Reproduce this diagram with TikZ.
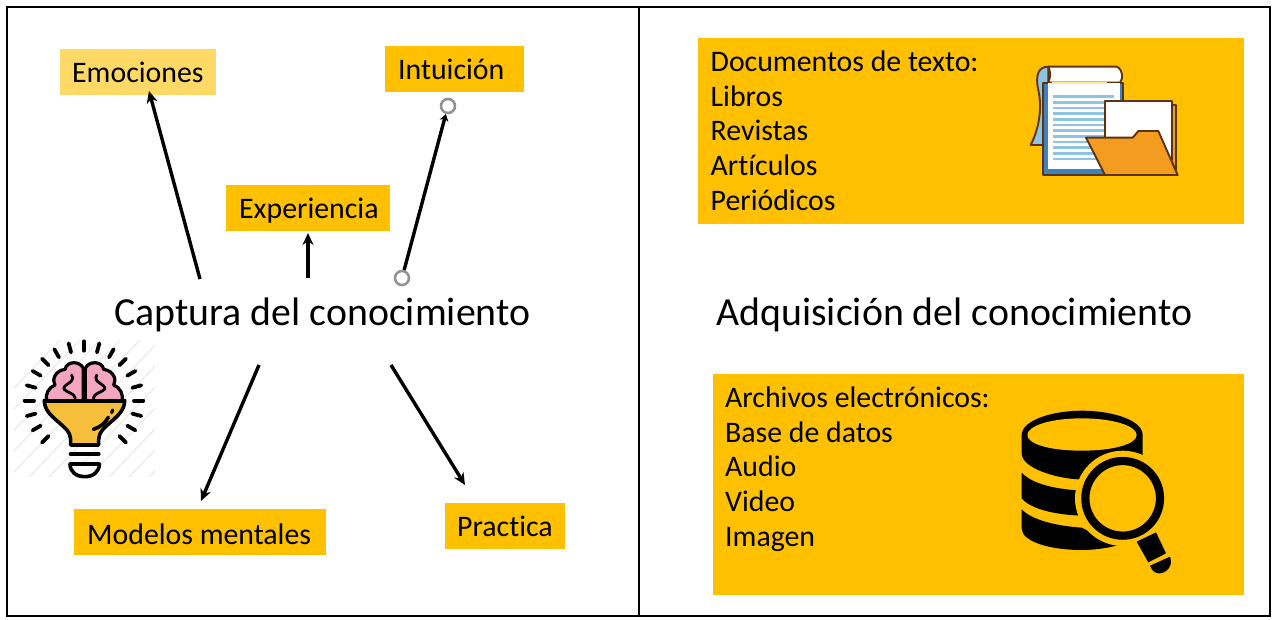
\documentclass[tikz,border=0pt]{standalone}
\usepackage{fontspec}
\setmainfont[Ligatures=NoCommon]{Carlito}
\usetikzlibrary{arrows.meta}
\definecolor{amb}{HTML}{FFC000}
\definecolor{lamb}{HTML}{FFD966}
\definecolor{pinkb}{HTML}{F4A6C0}
\definecolor{bulby}{HTML}{F7BE3C}
\definecolor{foldo}{HTML}{F39C1F}
\definecolor{blued}{HTML}{3F82BE}
\definecolor{bluel}{HTML}{8CC4E2}
\definecolor{brownl}{HTML}{5E3410}
\definecolor{hatch}{HTML}{EEEEEE}
\tikzset{
  x=1pt,y=-1pt,
  lbl/.style={font=\fontsize{29.8}{30}\selectfont,text=black,inner sep=0pt,anchor=base west},
  bigl/.style={font=\fontsize{39.8}{40}\selectfont,text=black,inner sep=0pt},
  listl/.style={font=\fontsize{29.8}{34.75}\selectfont,text=black,inner sep=0pt,anchor=north west,align=left},
  panel/.style={fill=amb,draw=none,inner sep=0pt,anchor=north west},
  frameline/.style={draw=black,line width=2.8pt},
  arr/.style={draw=black,line width=3.4pt,-{Stealth[length=12pt,width=11pt]}},
  handle/.style={circle,draw=gray!85,line width=2.6pt,fill=white,minimum size=14pt,inner sep=0pt},
  ray/.style={line width=3.8pt,line cap=round,draw=black},
  ico/.style={draw=black,line join=round},
  pap/.style={draw=brownl,line width=1.9pt,line join=round},
}
\newcommand{\panelbox}[6]{\node[panel,fill=#6,minimum width=#4pt,minimum height=#5pt] (#1) at (#2,#3) {};}
\begin{document}
\begin{tikzpicture}
\useasboundingbox (0,0) rectangle (1273,619);
\fill[white] (0,0) rectangle (1273,619);
% frame
\draw[frameline] (7,7) rectangle (1270,616);
\draw[frameline] (639,7) -- (639,616);
% boxes
\panelbox{emo}{60}{49}{156}{46}{lamb}
\panelbox{int}{385}{46}{139}{46}{amb}
\panelbox{exp}{226}{185}{164}{46}{amb}
\panelbox{mod}{74}{509}{252}{46}{amb}
\panelbox{pra}{445}{503}{120}{46}{amb}
\panelbox{doc}{698}{38}{546}{186}{amb}
\panelbox{arc}{713}{374}{531}{221}{amb}
% box text
\node[lbl] (temo) at (72,82) {Emociones};
\node[lbl] (tint) at (398,79) {Intuición};
\node[lbl] (texp) at (239,218) {Experiencia};
\node[lbl] (tmod) at (87,544) {Modelos mentales};
\node[lbl] (tpra) at (457,536) {Practica};
\node[listl] (tdoc) at (710.5,50.5) {Documentos de texto:\\Libros\\Revistas\\Artículos\\Periódicos};
\node[listl] (tarc) at (725,386.5) {Archivos electrónicos:\\Base de datos\\Audio\\Video\\Imagen};
% titles
\node[bigl] (cap) at (322.5,315) {Captura del conocimiento};
\node[bigl] (adq) at (954.5,315) {Adquisición del conocimiento};
% connectors
\coordinate (s1) at (200,279); \coordinate (e1) at (149,91);
\coordinate (s2) at (308,278); \coordinate (e2) at (308,233);
\coordinate (s3) at (259,365); \coordinate (e3) at (201,501);
\coordinate (s4) at (391,365); \coordinate (e4) at (465,485);
\draw[arr] (s1) -- (e1);
\draw[arr] (s2) -- (e2);
\draw[arr] (s3) -- (e3);
\draw[arr] (s4) -- (e4);
\node[handle] (h1) at (402,278) {};
\node[handle] (h2) at (448,106) {};
\draw[arr,-{Stealth[length=7pt,width=9pt]}] (h1) -- (h2);
% brain-bulb icon
\begin{scope}[shift={(0,330)},scale=1/3]
  \clip (42,10) rectangle (465,440);
  \foreach \i in {-4,...,9}{
    \draw[hatch,line width=1.5pt] ({\i*60},470) -- ({\i*60+420},30);
  }
\end{scope}
\begin{scope}[shift={(0,330)},scale=1/3]
  \foreach \a in {-45,-30,...,225}{
    \draw[ray] ({252+150*cos(\a)},{212-150*sin(\a)}) -- ({252+178*cos(\a)},{212-178*sin(\a)});
  }
  \draw[ico,fill=bulby,line width=3.6pt] (133,212) .. controls (133,265) and (212,285) .. (212,328) -- (212,345) -- (296,345) -- (296,328) .. controls (296,285) and (374,265) .. (374,212) -- cycle;
  \draw[ico,fill=pinkb,line width=3.2pt] (250,212) -- (250,115) .. controls (240,92) and (200,92) .. (195,118) .. controls (165,122) and (155,150) .. (165,165) .. controls (145,172) and (135,195) .. (140,212) -- cycle;
  \draw[ico,fill=pinkb,line width=3.2pt] (256,212) -- (256,115) .. controls (266,92) and (306,92) .. (311,118) .. controls (341,122) and (351,150) .. (341,165) .. controls (361,172) and (371,195) .. (366,212) -- cycle;
  \draw[ico,line width=2.8pt,line cap=round] (215,135) .. controls (228,160) and (188,160) .. (192,178) .. controls (205,190) and (222,188) .. (226,205);
  \draw[ico,line width=2.8pt,line cap=round] (290,135) .. controls (278,160) and (318,160) .. (314,178) .. controls (300,190) and (284,188) .. (280,205);
  \draw[ico,line width=4pt] (130,212) -- (377,212);
  \draw[ico,line width=3.6pt,line cap=round] (280,298) .. controls (300,292) and (315,280) .. (325,262);
  \draw[ico,line width=3.2pt,line cap=round] (335,248) -- (338,240);
  \draw[ico,line width=4pt,line cap=round] (212,372) -- (296,372);
  \draw[ico,fill=white,line width=3.6pt] (210,402) -- (298,402) .. controls (298,425) and (280,440) .. (255,440) .. controls (228,440) and (210,425) .. (210,402) -- cycle;
\end{scope}
% document and folder icon
\begin{scope}[shift={(1010,50)},scale=1/3]
  \draw[pap,fill=bluel] (115,50) .. controls (85,50) and (75,75) .. (85,120) .. controls (98,180) and (85,240) .. (62,285) -- (100,285) -- (115,100) -- cycle;
  \draw[pap,fill=white] (115,50) -- (320,50) .. controls (340,60) and (340,85) .. (330,98) -- (115,98) .. controls (122,80) and (122,65) .. (115,50) -- cycle;
  \fill[blued] (98,98) rectangle (340,375);
  \draw[pap] (98,98) rectangle (340,375);
  \fill[white] (113,100) rectangle (330,358);
  \fill[lamb!60] (125,96) rectangle (290,102);
  \foreach \y in {140,157,...,327}{
    \fill[bluel] (130,\y-4) rectangle (312,\y+4);
  }
  \draw[pap,fill=foldo] (480,165) -- (497,165) -- (497,375) -- (480,375) -- cycle;
  \draw[pap,fill=white] (284,152) rectangle (486,330);
  \draw[pap,fill=foldo] (228,263) -- (368,263) -- (385,243) -- (445,243) -- (503,375) -- (285,375) -- cycle;
\end{scope}
% database and magnifier icon
\begin{scope}[shift={(1000,400)},scale=1/3]
  \fill[black] (65,105) .. controls (65,60) and (160,32) .. (245,32) .. controls (335,32) and (428,60) .. (428,105) -- (428,175) -- (235,238) .. controls (170,235) and (65,205) .. (65,160) -- cycle;
  \fill[amb] (245,55) .. controls (150,55) and (82,78) .. (82,105) .. controls (82,132) and (150,152) .. (245,152) .. controls (340,152) and (410,132) .. (410,105) .. controls (410,78) and (340,55) .. (245,55) -- cycle;
  \fill[black] (65,218) .. controls (95,250) and (160,268) .. (250,272) -- (250,347) .. controls (160,345) and (90,325) .. (65,295) -- cycle;
  \fill[black] (65,328) .. controls (95,360) and (170,378) .. (245,383) -- (352,436) .. controls (320,445) and (280,450) .. (245,450) .. controls (150,450) and (65,425) .. (65,385) -- cycle;
  \fill[amb] (368,295) circle (143);
  \draw[black,line width=8.2pt,fill=amb] (368,295) circle (112);
  \fill[black] (410,425) -- (468,397) -- (498,460) -- (445,487) -- cycle;
  \fill[black] (450,497) -- (510,470) .. controls (522,500) and (495,522) .. (475,520) .. controls (462,518) and (455,510) .. (450,497) -- cycle;
\end{scope}
\end{tikzpicture}
\end{document}
